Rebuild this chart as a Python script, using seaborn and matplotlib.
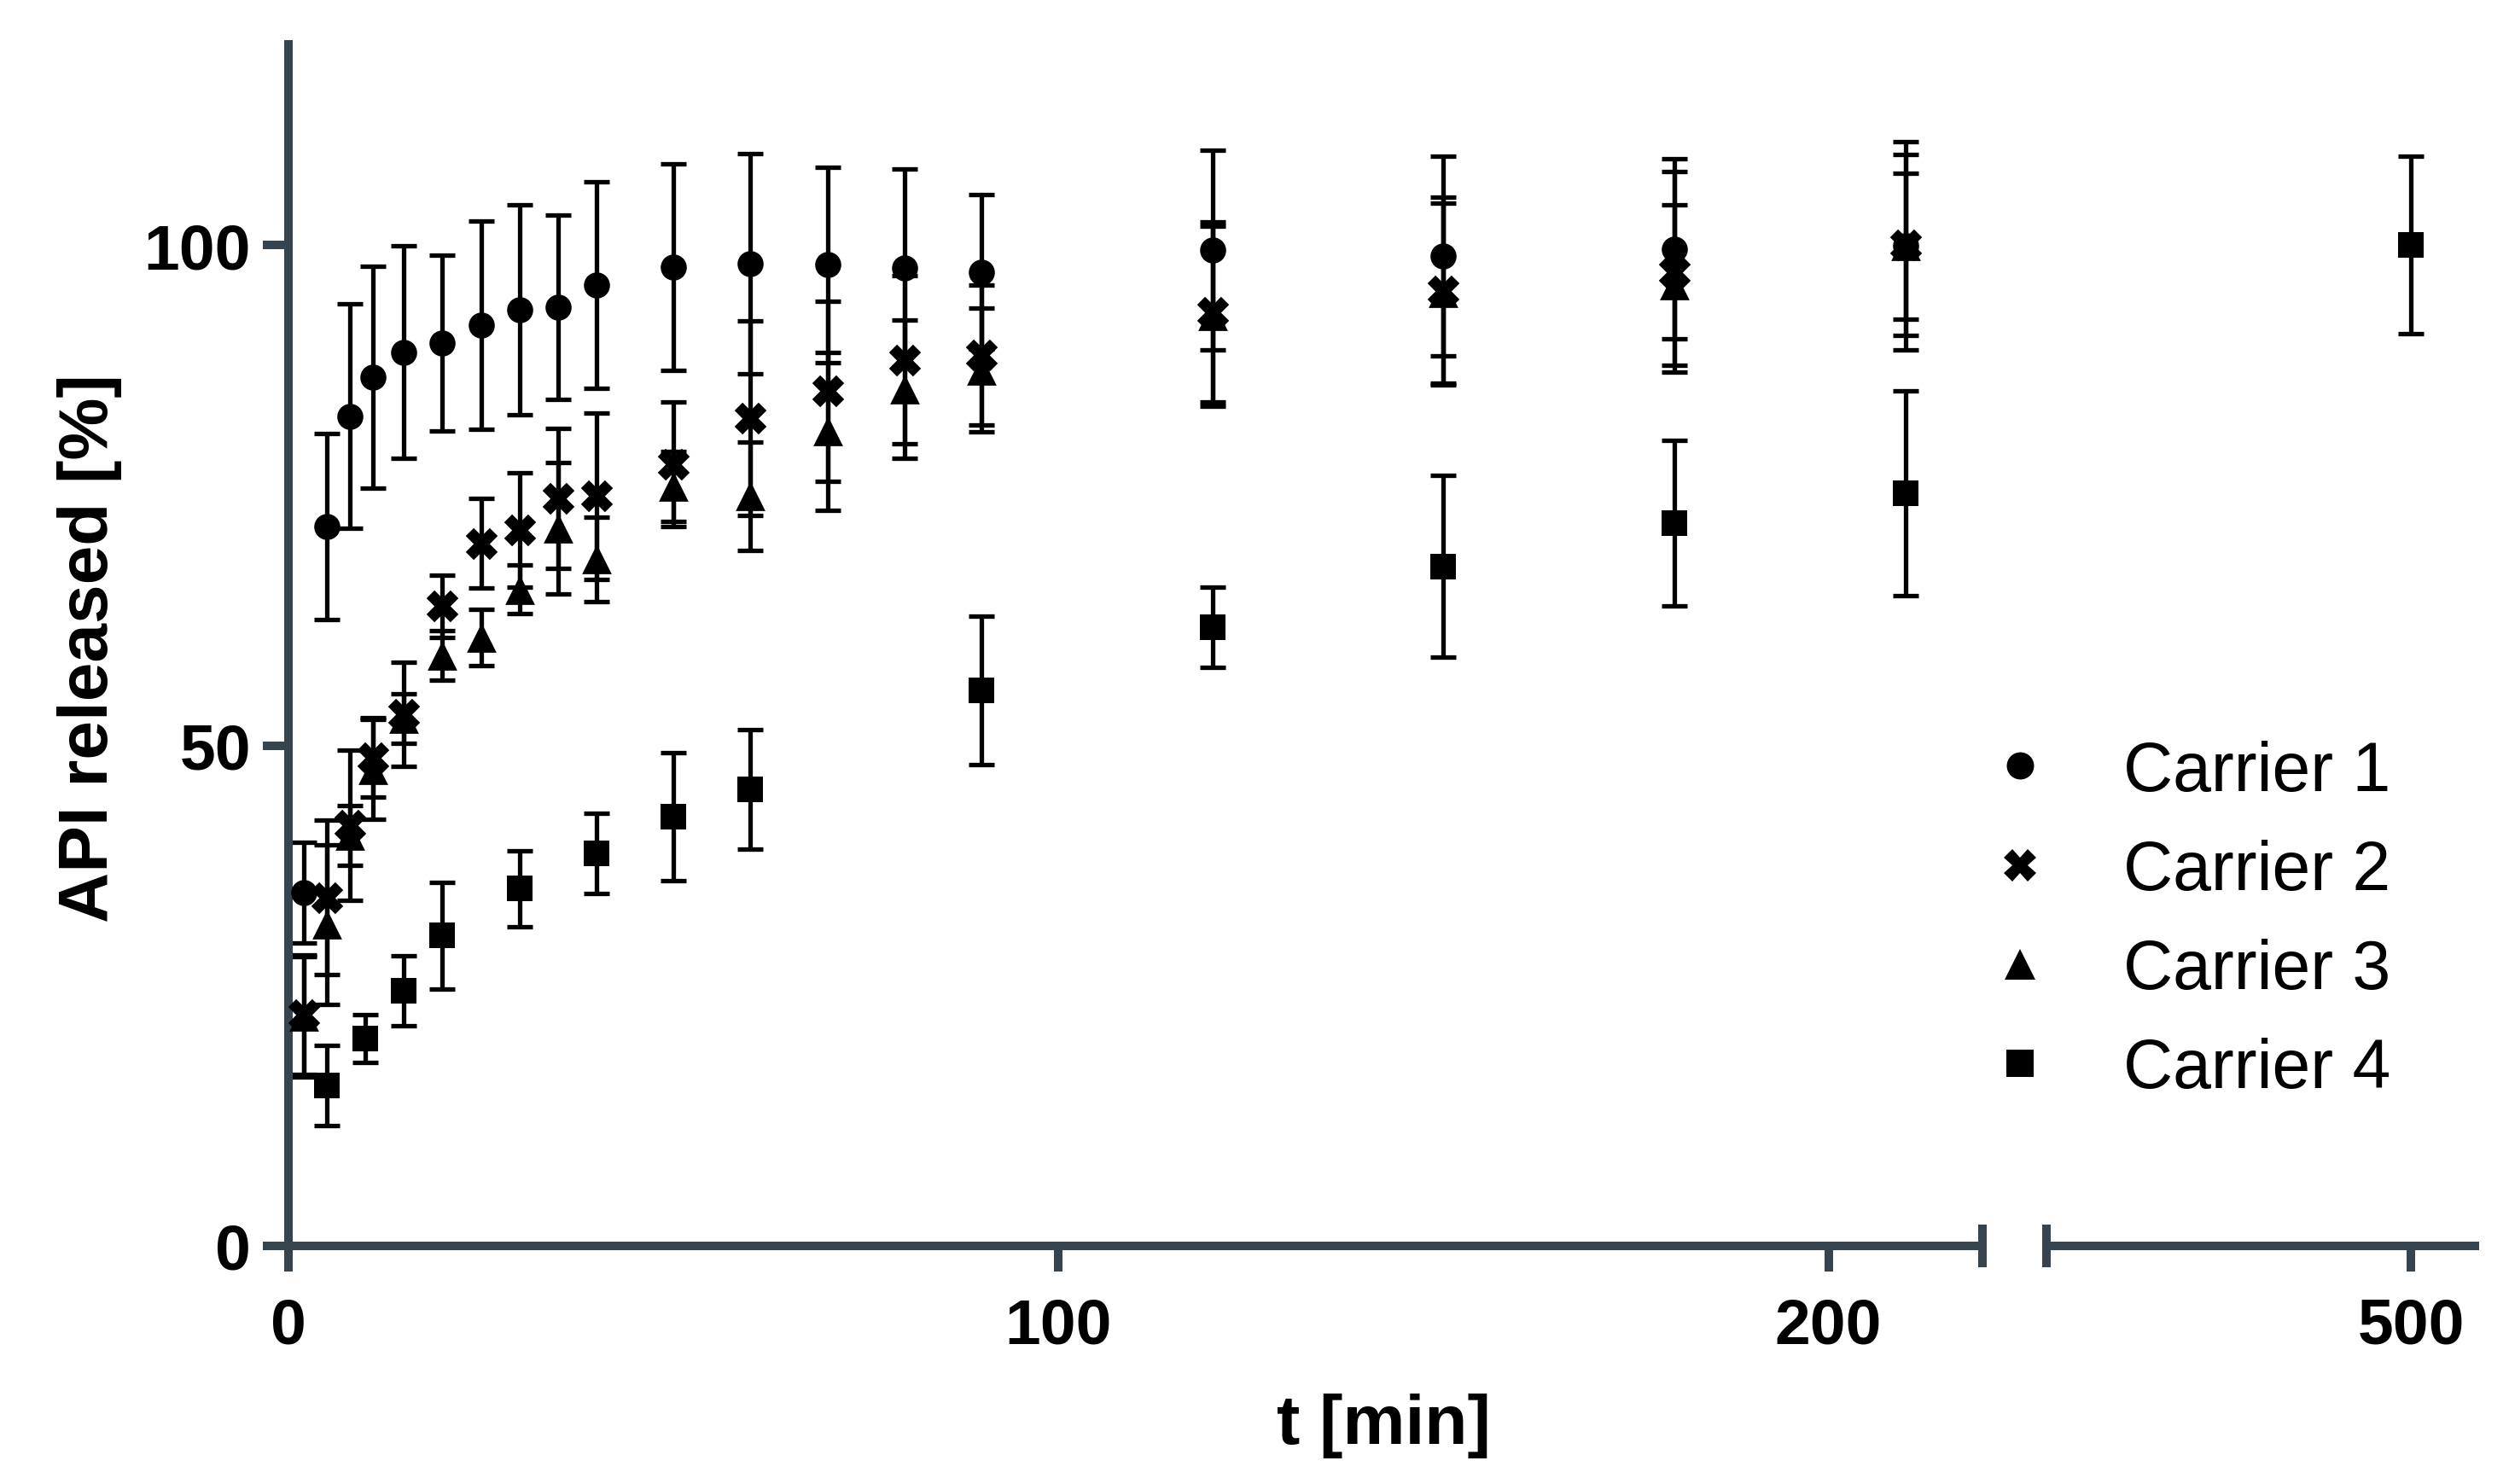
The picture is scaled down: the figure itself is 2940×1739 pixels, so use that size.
import numpy as np
import pandas as pd
import matplotlib
matplotlib.use("Agg")
import matplotlib.pyplot as plt
from matplotlib.lines import Line2D
import seaborn as sns

# ---------------- data ----------------
carriers = ["Carrier 1", "Carrier 2", "Carrier 3", "Carrier 4"]
markers = ["o", "X", "^", "s"]

t_early = [2, 5, 8, 11, 15, 20, 25, 30, 35, 40, 50, 60, 70, 80, 90, 120, 150, 180, 210]
c1_mean = [35.3, 71.9, 82.9, 86.8, 89.3, 90.2, 92.0, 93.5, 93.8, 96.0, 97.8, 98.1, 98.0, 97.7, 97.3, 99.5, 98.9, 99.6, 99.9]
c1_sd = [5.0, 9.3, 11.2, 11.1, 10.6, 8.8, 10.4, 10.5, 9.2, 10.3, 10.3, 11.0, 9.8, 9.9, 7.7, 10.0, 10.0, 9.0, 10.4]
c2_mean = [23.1, 34.8, 42.0, 48.8, 53.1, 63.9, 70.2, 71.5, 74.7, 74.9, 78.1, 82.7, 85.4, 88.5, 89.0, 93.3, 95.4, 97.3, 100.0]
c2_sd = [6.0, 7.7, 7.5, 4.0, 5.2, 3.1, 4.5, 5.7, 7.0, 8.3, 6.2, 9.7, 9.0, 8.4, 7.0, 9.0, 9.4, 10.0, 9.0]
c3_mean = [22.9, 32.1, 41.0, 47.6, 52.7, 59.0, 60.8, 65.6, 71.7, 68.6, 75.9, 74.9, 81.4, 85.6, 87.5, 92.9, 95.2, 96.0, 99.9]
c3_sd = [6.0, 8.0, 3.0, 5.0, 2.5, 2.5, 2.8, 2.4, 6.6, 4.2, 3.5, 5.4, 7.9, 6.9, 6.2, 9.0, 9.0, 8.0, 7.3]
t_c4 = [5, 10, 15, 20, 30, 40, 50, 60, 90, 120, 150, 180, 210, 500]
c4_mean = [16.0, 20.7, 25.5, 31.0, 35.7, 39.2, 42.9, 45.6, 55.5, 61.8, 67.9, 72.2, 75.2, 100.0]
c4_sd = [4.0, 2.4, 3.5, 5.3, 3.8, 4.0, 6.4, 6.0, 7.4, 4.0, 9.1, 8.3, 10.2, 8.9]

yticks = [0, 50, 100]
xticks_left = [0, 100, 200]
xticks_right = [500]

frames = []
for name, t, m, s in [("Carrier 1", t_early, c1_mean, c1_sd),
                      ("Carrier 2", t_early, c2_mean, c2_sd),
                      ("Carrier 3", t_early, c3_mean, c3_sd),
                      ("Carrier 4", t_c4, c4_mean, c4_sd)]:
    frames.append(pd.DataFrame({"carrier": name, "t": t, "mean": m, "sd": s}))
df = pd.concat(frames, ignore_index=True)

# ---------------- style ----------------
sns.set_theme(style="ticks")
plt.rcParams["font.family"] = ["Liberation Sans", "DejaVu Sans"]
plt.rcParams["text.color"] = "black"
plt.rcParams["axes.labelcolor"] = "black"
spine_col = "#36444f"

W, H = 2940, 1740
fig = plt.figure(figsize=(W / 100, H / 100), dpi=100)
fig.patch.set_facecolor("white")

x0, xbreak_l, xbreak_r, x1 = 338, 2323, 2398, 2900
ybot, ytop = 1461, 53.4
ax1 = fig.add_axes([x0 / W, 1 - ybot / H, (xbreak_l - x0) / W, (ybot - ytop) / H])
ax2 = fig.add_axes([xbreak_r / W, 1 - ybot / H, (x1 - xbreak_r) / W, (ybot - ytop) / H])

marker_map = dict(zip(carriers, markers))
size_map = {"Carrier 1": 22, "Carrier 2": 27, "Carrier 3": 25, "Carrier 4": 21}
draw_order = ["Carrier 3", "Carrier 1", "Carrier 2", "Carrier 4"]

for ax in (ax1, ax2):
    ax.set_facecolor("white")
    for name in draw_order:
        sub = df[df["carrier"] == name]
        ax.errorbar(sub["t"], sub["mean"], yerr=sub["sd"], fmt="none",
                    ecolor="black", elinewidth=3.8, capsize=10.5, capthick=3.8,
                    zorder=2)
    for name in draw_order:
        sub = df[df["carrier"] == name]
        sns.scatterplot(data=sub, x="t", y="mean", marker=marker_map[name],
                        color="black", s=size_map[name] ** 2, linewidth=0,
                        legend=False, ax=ax, zorder=3)
    ax.set_ylim(0, 120)
    ax.set_xlabel("")
    ax.set_ylabel("")
    for sp in ("top", "right"):
        ax.spines[sp].set_visible(False)
    ax.spines["bottom"].set_color(spine_col)
    ax.spines["bottom"].set_linewidth(7.2)
    ax.tick_params(axis="x", direction="out", length=21.6, width=7.2,
                   color=spine_col, labelsize=54, pad=21, labelcolor="black")

ax1.set_xlim(0, 220)
ax2.set_xlim(452.7, 508.3)
ax1.set_xticks(xticks_left)
ax2.set_xticks(xticks_right)
ax1.set_xticklabels([str(v) for v in xticks_left], fontweight="bold", color="black")
ax2.set_xticklabels([str(v) for v in xticks_right], fontweight="bold", color="black")

ax1.set_yticks(yticks)
ax1.set_yticklabels([str(v) for v in yticks], fontweight="bold", color="black")
ax1.spines["left"].set_color(spine_col)
ax1.spines["left"].set_linewidth(7.2)
ax1.tick_params(axis="y", direction="out", length=21.6, width=7.2,
                color=spine_col, labelsize=54, pad=10, labelcolor="black")

ax2.spines["left"].set_visible(False)
ax2.set_yticks([])

# break marks
d = 25 / (ybot - ytop)
ax1.plot([1, 1], [-d, d], transform=ax1.transAxes, color=spine_col, lw=7.2,
         clip_on=False, solid_capstyle="butt", zorder=5)
ax2.plot([0, 0], [-d, d], transform=ax2.transAxes, color=spine_col, lw=7.2,
         clip_on=False, solid_capstyle="butt", zorder=5)

# axis labels
fig.text(105 / W, 1 - 760 / H, "API released [%]", rotation=90, ha="center",
         va="center", fontsize=59, fontweight="bold", color="black")
fig.text(1621 / W, 1 - 1671 / H, "t [min]", ha="center", va="center",
         fontsize=59, fontweight="bold", color="black")

# legend
leg_sizes = {"Carrier 1": 23, "Carrier 2": 27, "Carrier 3": 26, "Carrier 4": 23}
handles = [Line2D([], [], marker=marker_map[c], color="black", linestyle="none",
                  markeredgewidth=0, markersize=leg_sizes[c]) for c in carriers]
leg = fig.legend(handles, carriers, loc="center left",
                 bbox_to_anchor=(2327 / W, 1 - 1080 / H), frameon=False, fontsize=58,
                 handlelength=1.0, handletextpad=1.0, labelspacing=0.5, borderpad=0,
                 borderaxespad=0)
for txt in leg.get_texts():
    txt.set_color("black")

fig.savefig("out.png", dpi=100, facecolor="white")
